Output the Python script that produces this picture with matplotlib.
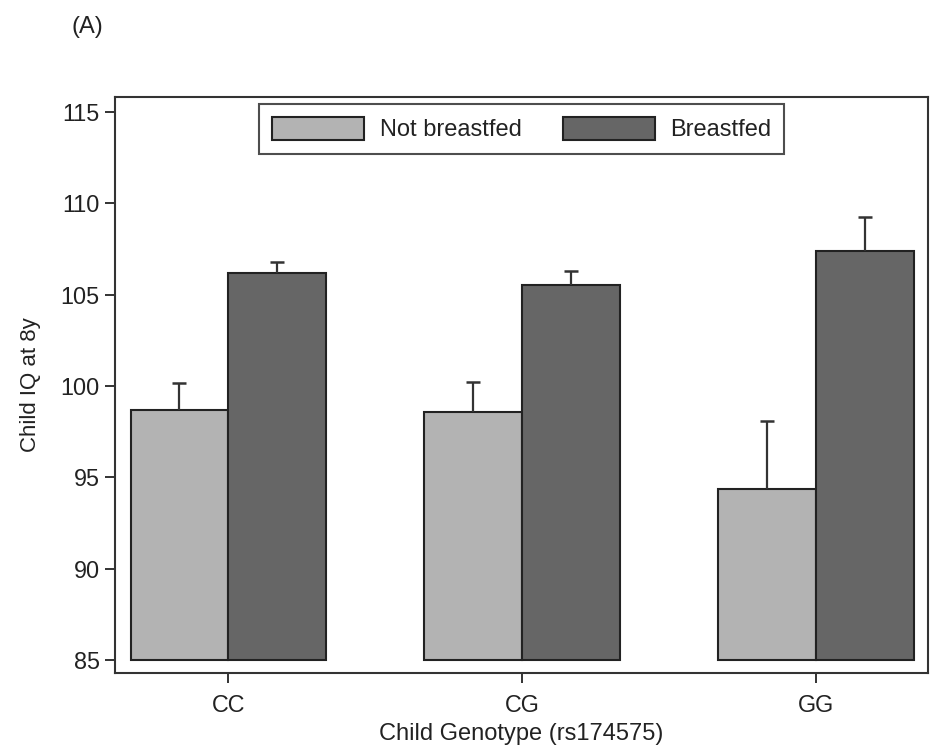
import matplotlib
matplotlib.use("Agg")
import matplotlib.pyplot as plt
import numpy as np

plt.rcParams['font.family'] = ['Liberation Sans', 'DejaVu Sans']

# values
genotypes = ['CC', 'CG', 'GG']
not_bf = [98.68, 98.56, 94.34]
not_bf_err = [1.50, 1.68, 3.74]
bf = [106.17, 105.53, 107.40]
bf_err = [0.63, 0.78, 1.83]
base = 85

fig = plt.figure(figsize=(9.32, 7.5), dpi=100)
ax = fig.add_axes([0.1234, 0.1023, 0.8727, 0.7688])

x = np.arange(len(genotypes))
w = 0.333
ec = '#222222'

h1 = [v - base for v in not_bf]
h2 = [v - base for v in bf]
b1 = ax.bar(x - w/2, h1, w, bottom=base, color='#b3b3b3', edgecolor=ec,
            linewidth=1.5, label='Not breastfed', zorder=2)
b2 = ax.bar(x + w/2, h2, w, bottom=base, color='#666666', edgecolor=ec,
            linewidth=1.5, label='Breastfed', zorder=2)

# upper-only error bars
for xs, vals, errs in [(x - w/2, not_bf, not_bf_err), (x + w/2, bf, bf_err)]:
    eb = ax.errorbar(xs, vals, yerr=[np.zeros(len(errs)), errs], fmt='none',
                     ecolor='#333333', elinewidth=1.6, capsize=5, capthick=1.8,
                     zorder=3)
    eb[1][0].set_visible(False)

ax.set_xlim(-0.386, 2.383)
ax.set_ylim(84.27, 115.84)
ax.set_yticks([85, 90, 95, 100, 105, 110, 115])
ax.set_xticks(x)
ax.set_xticklabels(genotypes)

for s in ax.spines.values():
    s.set_color('#333333')
    s.set_linewidth(1.5)

ax.tick_params(axis='both', direction='out', length=7, width=1.4,
               color='#333333', labelsize=16.8, labelcolor='#222222')
ax.tick_params(axis='y', pad=4)
ax.tick_params(axis='x', pad=8)

ax.set_ylabel('Child IQ at 8y', fontsize=16, color='#222222', labelpad=14)
ax.set_xlabel('Child Genotype (rs174575)', fontsize=17, color='#222222',
              labelpad=4)

leg = ax.legend(loc='upper center', ncol=2, fontsize=17, frameon=True,
                fancybox=False, edgecolor='#222222', handlelength=3.9,
                handleheight=1.15, handletextpad=0.65, columnspacing=1.75,
                borderpad=0.55, borderaxespad=0.3)
leg.get_frame().set_linewidth(1.5)
for t in leg.get_texts():
    t.set_color('#222222')

fig.text(0.077, 0.964, '(A)', fontsize=17, color='#222222', va='center')

fig.savefig('out.png', dpi=100)
